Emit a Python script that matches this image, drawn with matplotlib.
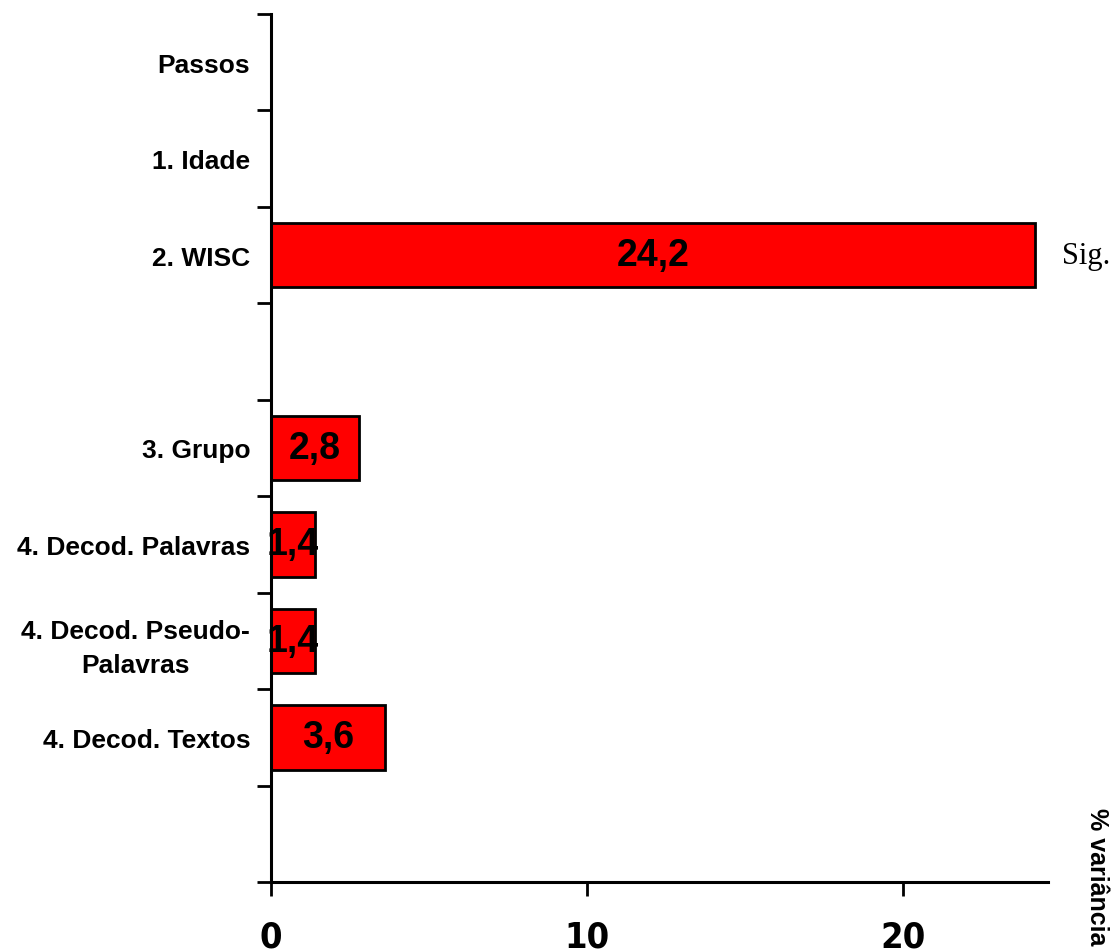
import numpy as np
import matplotlib
matplotlib.use("Agg")
from matplotlib import pyplot as plt
from matplotlib import font_manager

# passos da regressão e % de variância explicada
passos = ["Passos", "1. Idade", "2. WISC", "", "3. Grupo",
          "4. Decod. Palavras", "4. Decod. Pseudo-\nPalavras",
          "4. Decod. Textos", ""]
variancia = [np.nan, np.nan, 24.2, np.nan, 2.8, 1.4, 1.4, 3.6, np.nan]
rotulos = ["", "", "24,2", "", "2,8", "1,4", "1,4", "3,6", ""]
significativo = [False, False, True, False, False, False, False, False, False]
xticks = [0, 10, 20]

plt.rcParams['font.family'] = ['Liberation Sans', 'DejaVu Sans']
plt.rcParams['font.weight'] = 'bold'


def negrito(f):
    w = f.weight
    if isinstance(w, str):
        return w.lower() in ('bold', 'heavy', 'black', 'extra bold', 'semibold', 'demibold')
    return w >= 600


def estreiteza(f):
    # quanto menor, mais estreita
    if 'Narrow' in f.name or 'Condensed' in f.name:
        return 0
    if f.stretch in ('ultra-condensed', 'extra-condensed', 'condensed'):
        return 0
    if f.stretch == 'semi-condensed':
        return 1
    return 9


# fonte estreita em negrito para os números do eixo x, se houver
estreitas = sorted([f for f in font_manager.fontManager.ttflist
                    if estreiteza(f) < 9 and negrito(f) and f.style == 'normal'],
                   key=estreiteza)
if estreitas:
    fonte_x = font_manager.FontProperties(fname=estreitas[0].fname, size=26)
else:
    fonte_x = font_manager.FontProperties(family='Liberation Sans',
                                          weight='bold', size=23)

fig = plt.figure(figsize=(11.17, 9.53), dpi=100)
ax = fig.add_axes([271 / 1117, 70 / 953, (1048 - 271) / 1117, (938 - 70) / 953])

pos = np.arange(len(passos)) + 0.5
barras = ax.barh(pos, variancia, height=0.67, color='#ff0000',
                 edgecolor='black', linewidth=2)

for b, txt, v in zip(barras, rotulos, variancia):
    if txt:
        ax.text(v / 2, b.get_y() + b.get_height() / 2, txt, ha='center',
                va='center', fontsize=27, fontweight='bold', color='black')

for p, v, s in zip(pos, variancia, significativo):
    if s:
        ax.annotate("Sig.", xy=(v, p), xytext=(19.5, 0),
                    textcoords='offset points', ha='left', va='center',
                    fontsize=22, fontweight='normal', family='Liberation Serif',
                    annotation_clip=False)

ax.set_xlim(0, 24.6)
ax.set_ylim(len(passos), 0)

# marcas nas divisórias, rótulos no centro de cada passo
ax.set_yticks(np.arange(len(passos) + 1))
ax.set_yticklabels([])
ax.set_yticks(pos, minor=True)
ax.set_yticklabels(passos, minor=True, fontsize=19, fontweight='bold',
                   multialignment='center', linespacing=1.5)
ax.tick_params(axis='y', which='minor', length=0, pad=15)
ax.tick_params(axis='y', which='major', length=10, width=2, direction='out')

ax.set_xticks(xticks)
ax.set_xticklabels([str(t) for t in xticks], fontproperties=fonte_x)
ax.tick_params(axis='x', length=10, width=2, direction='out', pad=17)

for lado in ['top', 'right']:
    ax.spines[lado].set_visible(False)
for lado in ['left', 'bottom']:
    ax.spines[lado].set_linewidth(2.2)

fig.text(1097 / 1117, (953 - 808) / 953, "% variância", rotation=270,
         ha='center', va='top', fontsize=18, fontweight='bold')

fig.savefig("out.png", dpi=100, facecolor='white')
